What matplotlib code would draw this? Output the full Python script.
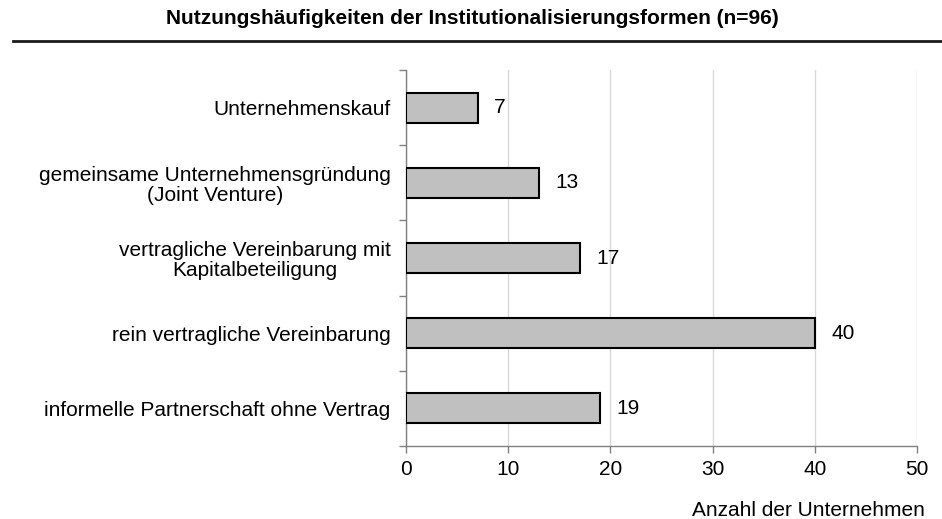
import matplotlib
matplotlib.use("Agg")
import matplotlib.pyplot as plt
from matplotlib.lines import Line2D
import numpy as np

plt.rcParams['font.family'] = ['Liberation Sans', 'DejaVu Sans']

categories = [
    "Unternehmenskauf",
    "gemeinsame Unternehmensgründung\n(Joint Venture)",
    "vertragliche Vereinbarung mit\nKapitalbeteiligung",
    "rein vertragliche Vereinbarung",
    "informelle Partnerschaft ohne Vertrag",
]
values = [7, 13, 17, 40, 19]
xticks = [0, 10, 20, 30, 40, 50]
title = "Nutzungshäufigkeiten der Institutionalisierungsformen (n=96)"
xlabel = "Anzahl der Unternehmen"

FS = 15

fig = plt.figure(figsize=(9.42, 5.19), dpi=100)
ax = fig.add_axes([406/942, 1-446/519, (917-406)/942, (446-70)/519])

n = len(categories)
y = np.arange(n)
ax.barh(y, values, height=0.4, color="#c0c0c0", edgecolor="black", linewidth=1.5, zorder=3)
for yi, v in zip(y, values):
    ax.annotate(str(v), (v, yi), xytext=(12, 0), textcoords="offset points",
                va="center", ha="left", fontsize=FS)

ax.set_ylim(n - 0.5, -0.5)
ax.set_xlim(0, 50)
ax.set_xticks(xticks)
ax.set_xticklabels([str(t) for t in xticks], fontsize=FS)
ax.set_yticks(y)
ax.set_yticklabels(categories, fontsize=FS, multialignment="center", linespacing=1.1)
ax.tick_params(axis="y", length=0, pad=11)
ax.set_yticks(np.arange(-0.5, n, 1.0), minor=True)
ax.tick_params(axis="y", which="minor", length=5, color="#808080", width=1)
ax.tick_params(axis="x", length=5, color="#808080", width=1, pad=5)
ax.grid(axis="x", color="#d9d9d9", linewidth=1, zorder=0)
for s in ["top", "right"]:
    ax.spines[s].set_visible(False)
for s in ["left", "bottom"]:
    ax.spines[s].set_color("#808080")
    ax.spines[s].set_linewidth(1)

fig.text(925/942, 1-511/519, xlabel, ha="right", va="center", fontsize=FS)
fig.text(472/942, 1-18/519, title, ha="center", va="center", fontsize=FS, fontweight="bold")
fig.add_artist(Line2D([13/942, 1.0], [1-40.5/519, 1-40.5/519], color="#1a1a1a", linewidth=2, transform=fig.transFigure))

fig.savefig("out.png", dpi=100)
